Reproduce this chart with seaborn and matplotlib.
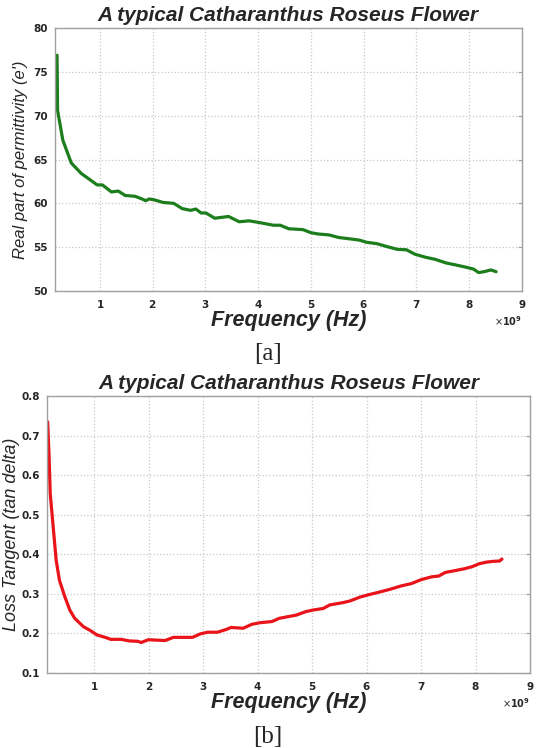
import numpy as np
import pandas as pd
import seaborn as sns
import matplotlib.pyplot as plt
from matplotlib.ticker import ScalarFormatter

# panel [a] - real part of permittivity (frequency in GHz, scaled to Hz below)
freq_a = [0.19, 0.20, 0.30, 0.46, 0.65, 0.79, 0.95, 1.05, 1.22, 1.35, 1.48, 1.67, 1.80,
          1.87, 1.94, 2.03, 2.20, 2.40, 2.56, 2.72, 2.82, 2.92, 3.01, 3.18, 3.31, 3.44,
          3.64, 3.83, 4.03, 4.29, 4.42, 4.58, 4.85, 5.00, 5.14, 5.34, 5.53, 5.80, 5.92,
          6.06, 6.25, 6.45, 6.64, 6.81, 6.97, 7.17, 7.36, 7.56, 7.76, 7.95, 8.08, 8.18,
          8.28, 8.41, 8.51]
eps_real = [76.9, 70.6, 67.2, 64.6, 63.4, 62.8, 62.1, 62.1, 61.3, 61.4, 60.9, 60.8, 60.5,
            60.3, 60.5, 60.4, 60.1, 60.0, 59.4, 59.2, 59.35, 58.9, 58.9, 58.3, 58.4, 58.5,
            57.9, 58.0, 57.8, 57.5, 57.5, 57.1, 57.0, 56.65, 56.5, 56.4, 56.1, 55.9, 55.8,
            55.55, 55.4, 55.05, 54.75, 54.7, 54.2, 53.85, 53.6, 53.2, 52.95, 52.7, 52.5, 52.1,
            52.2, 52.4, 52.2]

# panel [b] - loss tangent
freq_b = [0.143, 0.17, 0.19, 0.25, 0.30, 0.36, 0.46, 0.55, 0.64, 0.80, 0.93, 1.05, 1.20,
          1.30, 1.49, 1.64, 1.80, 1.86, 1.99, 2.14, 2.30, 2.45, 2.64, 2.80, 2.95, 3.08,
          3.26, 3.42, 3.51, 3.73, 3.89, 4.04, 4.26, 4.39, 4.54, 4.70, 4.88, 5.01, 5.20,
          5.32, 5.57, 5.69, 5.88, 6.04, 6.19, 6.44, 6.63, 6.82, 7.00, 7.19, 7.32, 7.44,
          7.63, 7.81, 7.94, 8.06, 8.19, 8.31, 8.44, 8.48]
tan_delta = [0.735, 0.646, 0.554, 0.461, 0.384, 0.334, 0.292, 0.259, 0.238, 0.217, 0.207,
             0.196, 0.190, 0.185, 0.185, 0.181, 0.180, 0.177, 0.184, 0.183, 0.182, 0.190,
             0.190, 0.190, 0.199, 0.203, 0.203, 0.210, 0.215, 0.213, 0.223, 0.227, 0.230,
             0.238, 0.242, 0.246, 0.255, 0.259, 0.263, 0.272, 0.278, 0.282, 0.292, 0.298,
             0.303, 0.312, 0.320, 0.326, 0.336, 0.343, 0.345, 0.354, 0.359, 0.364, 0.369,
             0.376, 0.380, 0.382, 0.383, 0.388]

title = "A typical Catharanthus Roseus Flower"

sns.set_style("whitegrid")
plt.rcParams['font.family'] = ['Liberation Sans', 'DejaVu Sans']

df_a = pd.DataFrame({'freq': np.array(freq_a) * 1e9, 'val': eps_real})
df_b = pd.DataFrame({'freq': np.array(freq_b) * 1e9, 'val': tan_delta})

fig = plt.figure(figsize=(5.37, 7.48), dpi=100)
ax1 = fig.add_axes([0.102, 0.611, 0.870, 0.3515])
ax2 = fig.add_axes([0.0875, 0.1003, 0.9, 0.3703])


def style_axes(ax, xlim, ylim, yticks, ylabel, yfmt, ysize):
    ax.set_xlim(*xlim)
    ax.set_ylim(*ylim)
    ax.set_xticks(np.arange(1, 10) * 1e9)
    ax.set_yticks(yticks)
    ax.xaxis.set_major_formatter(ScalarFormatter(useMathText=True))
    ax.yaxis.set_major_formatter(plt.FormatStrFormatter(yfmt))
    ax.grid(True, color='#c8c8c8', linestyle=':', linewidth=0.9)
    for s in ax.spines.values():
        s.set_color('#a0a0a0')
        s.set_linewidth(1.0)
    ax.tick_params(direction='in', length=3, color='#a0a0a0', labelsize=7.5,
                   right=True, top=False, pad=5)
    for lab in ax.get_xticklabels() + ax.get_yticklabels():
        lab.set_fontweight('bold')
        lab.set_family('DejaVu Sans')
        lab.set_color('#262626')
    off = ax.xaxis.get_offset_text()
    off.set_fontsize(7)
    off.set_fontweight('bold')
    off.set_family('DejaVu Sans')
    ax.set_title(title, fontsize=15, fontweight='bold', fontstyle='italic', pad=5)
    ax.set_xlabel("Frequency (Hz)", fontsize=15.5, fontweight='bold',
                  fontstyle='italic', labelpad=0)
    ax.set_ylabel(ylabel, fontsize=ysize, fontstyle='italic')


sns.lineplot(data=df_a, x='freq', y='val', ax=ax1, color='#1c7d1c', linewidth=2.3)
style_axes(ax1, (0.147e9, 9e9), (50, 80), [50, 55, 60, 65, 70, 75, 80],
           "Real part of permittivity (e')", '%d', 12)
ax1.yaxis.set_label_coords(-0.058, 0.5)

sns.lineplot(data=df_b, x='freq', y='val', ax=ax2, color='#e8141a', linewidth=2.3)
style_axes(ax2, (0.131e9, 9e9), (0.1, 0.8), [0.1, 0.2, 0.3, 0.4, 0.5, 0.6, 0.7, 0.8],
           "Loss Tangent (tan delta)", '%.1f', 13)
ax2.yaxis.set_label_coords(-0.056, 0.5)

fig.text(268 / 537, 1 - 354 / 748, "[a]", ha='center', va='center',
         fontsize=18, family='Liberation Serif')
fig.text(268 / 537, 1 - 737 / 748, "[b]", ha='center', va='center',
         fontsize=18, family='Liberation Serif')

fig.savefig("out.png", dpi=100)
